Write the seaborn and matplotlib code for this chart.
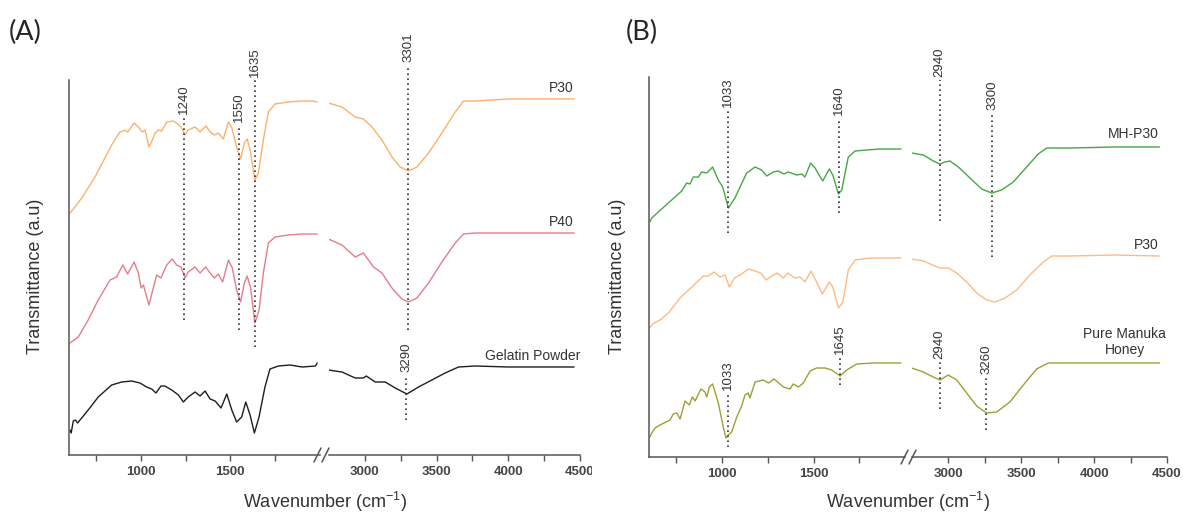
import numpy as np
import pandas as pd
import seaborn as sns
import matplotlib.pyplot as plt
from matplotlib.lines import Line2D
from matplotlib.transforms import Bbox, TransformedBbox

# ---- panel A: gelatin films (wavenumber, transmittance a.u.) ----
a_p30_lw = [606, 633, 671, 745, 838, 884, 912, 927, 963, 987, 1009, 1024, 1046, 1065, 1080, 1098,
            1117, 1145, 1182, 1200, 1225, 1247, 1265, 1303, 1331, 1364, 1387, 1411, 1433, 1461,
            1489, 1507, 1535, 1557, 1578, 1594, 1610, 1637, 1656, 1684, 1712, 1749, 1823, 1900,
            1960, 1984]
a_p30_lt = [242, 248, 257, 278, 310, 323, 325, 323, 332, 328, 323, 325, 308, 315, 322, 325,
            324, 333, 334, 332, 328, 320, 325, 328, 323, 329, 323, 320, 322, 316,
            333, 328, 308, 296, 312, 316, 305, 275, 282, 315, 343, 351, 353, 354,
            354, 353]
a_p30_rw = [2746, 2840, 2933, 2990, 3049, 3119, 3189, 3246, 3304, 3363, 3444, 3537, 3630, 3688,
            3769, 4001, 4459]
a_p30_rt = [352, 348, 338, 336, 328, 315, 298, 288, 284, 288, 302, 322, 343, 354, 354, 356, 356]

a_p40_lw = [606, 652, 707, 763, 829, 866, 900, 927, 963, 987, 1002, 1015, 1046, 1070, 1089, 1113,
            1145, 1176, 1200, 1225, 1247, 1265, 1303, 1331, 1362, 1387, 1411, 1433, 1457, 1489,
            1511, 1535, 1557, 1578, 1594, 1613, 1637, 1660, 1684, 1712, 1749, 1823, 1900, 1984]
a_p40_lt = [112, 118, 135, 155, 175, 178, 190, 181, 193, 182, 167, 170, 150, 167, 180, 177,
            190, 196, 190, 188, 177, 183, 188, 182, 188, 182, 177, 181, 173, 195,
            187, 165, 153, 172, 179, 167, 132, 145, 182, 212, 218, 220, 221, 221]
a_p40_rw = [2746, 2840, 2933, 2990, 3060, 3119, 3189, 3258, 3304, 3363, 3444, 3537, 3630, 3688,
            3769, 4001, 4459]
a_p40_rt = [216, 210, 198, 202, 188, 182, 167, 156, 153, 157, 172, 193, 212, 221, 222, 222, 222]

a_gel_lw = [606, 612, 624, 636, 648, 707, 763, 838, 894, 950, 996, 1033, 1061, 1085, 1113, 1135,
            1173, 1210, 1238, 1265, 1303, 1331, 1359, 1387, 1415, 1448, 1480, 1508, 1535, 1563,
            1586, 1610, 1634, 1660, 1693, 1721, 1768, 1833, 1900, 1975, 1984]
a_gel_lt = [25, 22, 34, 35, 32, 45, 58, 70, 73, 74, 72, 68, 66, 62, 69, 69,
            65, 60, 53, 58, 63, 59, 64, 56, 54, 47, 61, 45, 33, 38,
            53, 40, 22, 38, 68, 86, 89, 90, 88, 89, 92]
a_gel_rw = [2746, 2840, 2933, 2990, 3010, 3072, 3142, 3212, 3293, 3374, 3467, 3560, 3653, 3769,
            4001, 4459]
a_gel_rt = [85, 83, 77, 77, 79, 73, 73, 67, 61, 68, 75, 82, 88, 89, 88, 88]

# ---- panel B: manuka honey films ----
b_mh_lw = [605, 615, 633, 669, 724, 779, 806, 824, 842, 870, 888, 916, 948, 979, 1003, 1034,
           1070, 1098, 1134, 1180, 1216, 1244, 1280, 1307, 1338, 1362, 1408, 1435, 1453, 1484,
           1508, 1550, 1586, 1605, 1636, 1654, 1690, 1727, 1791, 1864, 1978]
b_mh_lt = [235, 239, 242, 248, 257, 266, 274, 273, 280, 280, 285, 284, 290, 277, 270, 249,
           259, 270, 284, 290, 287, 281, 285, 286, 283, 285, 282, 283, 280, 294,
           289, 276, 288, 282, 263, 267, 300, 306, 307, 308, 308]
b_mh_rw = [2748, 2828, 2896, 2942, 2976, 3011, 3068, 3148, 3228, 3297, 3365, 3445, 3537, 3616,
           3674, 3834, 4143, 4448]
b_mh_rt = [304, 302, 296, 293, 295, 296, 290, 279, 268, 264, 267, 275, 290, 303, 309, 309, 310, 310]

b_p30_lw = [605, 620, 660, 706, 770, 834, 897, 924, 956, 988, 1016, 1039, 1067, 1098, 1143, 1180,
            1211, 1240, 1271, 1302, 1335, 1359, 1399, 1426, 1453, 1486, 1517, 1548, 1586, 1605,
            1636, 1660, 1690, 1727, 1809, 1978]
b_p30_lt = [129, 133, 137, 144, 159, 170, 181, 181, 185, 180, 182, 170, 179, 182, 188, 186,
            184, 177, 181, 184, 179, 184, 179, 180, 175, 186, 175, 163, 175, 170,
            149, 155, 187, 197, 199, 199]
b_p30_rw = [2748, 2828, 2908, 2942, 2999, 3057, 3125, 3194, 3262, 3319, 3388, 3468, 3559, 3651,
            3708, 3834, 4143, 4448]
b_p30_rt = [198, 196, 191, 189, 189, 184, 175, 164, 157, 155, 159, 167, 182, 195, 201, 201, 202, 201]

b_hon_lw = [605, 615, 633, 660, 715, 733, 752, 770, 797, 820, 837, 852, 884, 906, 916, 930,
            948, 979, 1006, 1021, 1034, 1052, 1080, 1107, 1125, 1143, 1152, 1180, 1225, 1253,
            1284, 1335, 1371, 1389, 1417, 1444, 1481, 1517, 1563, 1599, 1645, 1681, 1736, 1827, 1978]
b_hon_lt = [20, 24, 29, 32, 37, 43, 44, 38, 56, 52, 60, 56, 68, 65, 60, 70,
            73, 54, 30, 19, 22, 25, 40, 51, 62, 64, 59, 75, 77, 74,
            78, 70, 68, 73, 70, 74, 86, 89, 89, 87, 81, 87, 93, 94, 94]
b_hon_rw = [2748, 2828, 2896, 2942, 2999, 3057, 3125, 3194, 3262, 3331, 3422, 3514, 3605, 3685,
            3834, 4143, 4448]
b_hon_rt = [89, 85, 80, 77, 82, 77, 64, 51, 44, 45, 55, 72, 88, 94, 94, 94, 94]

# peak markers: label (= wavenumber), line bottom, line top
a_peaks = ["1240", "1550", "1635", "3301", "3290"]
a_peak_lo = [135, 125, 108, 125, 35]
a_peak_hi = [338, 330, 375, 390, 80]
b_peaks = ["1033", "1640", "2940", "3300", "1033", "1645", "2940", "3260"]
b_peak_lo = [224, 244, 236, 200, 10, 72, 48, 27]
b_peak_hi = [347, 339, 377, 344, 64, 100, 95, 80]

sns.set_style("white")
plt.rcParams['font.family'] = ['Liberation Sans', 'DejaVu Sans']
plt.rcParams['mathtext.fontset'] = 'custom'
plt.rcParams['mathtext.rm'] = 'Liberation Sans'

W, H = 1183, 515
fig = plt.figure(figsize=(W / 100, H / 100), dpi=100)

axA1 = fig.add_axes([69 / W, (H - 455) / H, 251 / W, 375 / H])
axA2 = fig.add_axes([329 / W, (H - 455) / H, 251 / W, 375 / H])
axB1 = fig.add_axes([649 / W, (H - 457) / H, 256 / W, 380 / H])
axB2 = fig.add_axes([912 / W, (H - 457) / H, 255 / W, 380 / H])

axis_col = '#555555'
tick_col = '#454545'
for ax, left, ylim in [(axA1, True, 375), (axA2, False, 375), (axB1, True, 380), (axB2, False, 380)]:
    ax.set_facecolor('none')
    ax.set_ylim(0, ylim)
    ax.set_yticks([])
    for s in ['top', 'right']:
        ax.spines[s].set_visible(False)
    ax.spines['left'].set_visible(left)
    ax.spines['left'].set_color(axis_col)
    ax.spines['bottom'].set_color(axis_col)
    ax.spines['left'].set_linewidth(1.1)
    ax.spines['bottom'].set_linewidth(1.1)
    if left:
        ax.set_xlim(600, 2000)
        ax.set_xticks([1000, 1500])
        ax.set_xticks([750, 1250, 1750], minor=True)
    else:
        ax.set_xlim(2750, 4500)
        ax.set_xticks([3000, 3500, 4000, 4500])
        ax.set_xticks([3250, 3750, 4250], minor=True)
    ax.tick_params(axis='x', which='both', direction='out', length=4, width=1,
                   color=axis_col, bottom=True, pad=4)
    ax.tick_params(axis='x', labelsize=9.5, labelcolor=tick_col)
    for lab in ax.get_xticklabels():
        lab.set_fontweight('bold')


def draw(ax, x, y, color):
    sns.lineplot(x=x, y=y, ax=ax, color=color, lw=1.0, sort=False, estimator=None, legend=False)
    ax.set_xlabel('')
    ax.set_ylabel('')


c_p30 = '#FDB16A'
c_p40 = '#E57D8B'
c_gel = '#1E1E1E'
c_mh = '#44A845'
c_p30b = '#FDBB86'
c_hon = '#9CA137'

draw(axA1, a_p30_lw, a_p30_lt, c_p30)
draw(axA2, a_p30_rw, a_p30_rt, c_p30)
draw(axA1, a_p40_lw, a_p40_lt, c_p40)
draw(axA2, a_p40_rw, a_p40_rt, c_p40)
draw(axA1, a_gel_lw, a_gel_lt, c_gel)
draw(axA2, a_gel_rw, a_gel_rt, c_gel)

draw(axB1, b_mh_lw, b_mh_lt, c_mh)
draw(axB2, b_mh_rw, b_mh_rt, c_mh)
draw(axB1, b_p30_lw, b_p30_lt, c_p30b)
draw(axB2, b_p30_rw, b_p30_rt, c_p30b)
draw(axB1, b_hon_lw, b_hon_lt, c_hon)
draw(axB2, b_hon_rw, b_hon_rt, c_hon)


def peaks(ax_l, ax_r, labels, lo, hi):
    for lab, y0, y1 in zip(labels, lo, hi):
        wn = float(lab)
        ax = ax_l if wn < 2000 else ax_r
        ax.plot([wn, wn], [y0, y1], color='#333333', lw=1.2, ls=(0, (1, 2)), clip_on=False)
        ax.text(wn, y1 + 3, lab, rotation=90, ha='center', va='bottom', fontsize=9.5,
                color='#333333')


peaks(axA1, axA2, a_peaks, a_peak_lo, a_peak_hi)
peaks(axB1, axB2, b_peaks, b_peak_lo, b_peak_hi)

# curve names
lab_kw = dict(fontsize=10, color='#333333')
axA2.text(4459, 367, 'P30', ha='right', va='center', **lab_kw)
axA2.text(4459, 233, 'P40', ha='right', va='center', **lab_kw)
axA2.text(4500, 99, 'Gelatin Powder', ha='right', va='center', **lab_kw)
axB2.text(4444, 323, 'MH-P30', ha='right', va='center', **lab_kw)
axB2.text(4444, 212, 'P30', ha='right', va='center', **lab_kw)
axB2.text(4211, 115, 'Pure Manuka\nHoney', ha='center', va='center', linespacing=1.25, **lab_kw)

# axis titles
for xc in (36, 617):
    fig.text(xc / W, 1 - 276 / H, 'Transmittance (a.u)', rotation=90, ha='center', va='center',
             fontsize=13, color='#333333')
for xc in (324.5, 908):
    fig.text(xc / W, 1 - 502 / H, 'Wavenumber (cm$^{-1}$)', ha='center', va='center',
             fontsize=13, color='#333333')

# panel letters
fig.text(9 / W, 1 - 32 / H, '(A)', fontsize=19.5, family=['Lato', 'DejaVu Sans'], va='center')
fig.text(626 / W, 1 - 32 / H, '(B)', fontsize=19.5, family=['Lato', 'DejaVu Sans'], va='center')

# axis break marks
for x0, y0 in [(317, 455), (325, 455), (904, 457), (912, 457)]:
    fig.add_artist(Line2D([(x0 - 3) / W, (x0 + 4) / W], [1 - (y0 + 7) / H, 1 - (y0 - 7) / H],
                          color=axis_col, lw=1.1))

# the last tick label of panel A is cut by panel B in the original
clip = TransformedBbox(Bbox([[0, 0], [592 / W, 1]]), fig.transFigure)
for lab in axA2.get_xticklabels():
    lab.set_clip_on(True)
    lab.set_clip_box(clip)

fig.savefig('out.png', dpi=100, facecolor='white')
